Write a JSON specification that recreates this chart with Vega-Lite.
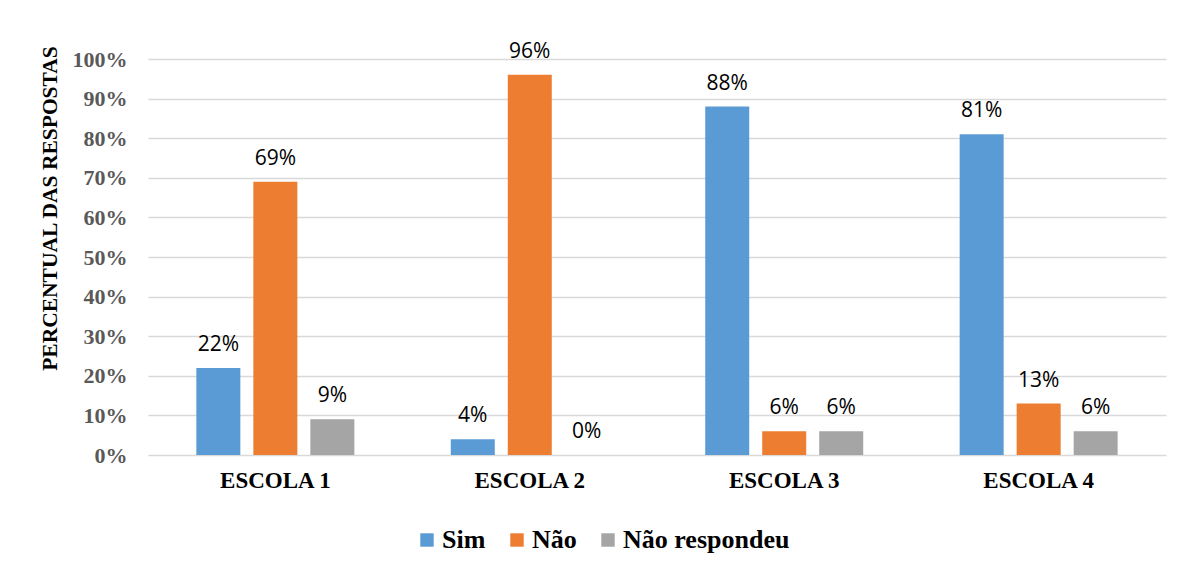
{
  "$schema": "https://vega.github.io/schema/vega-lite/v6.json",
  "width": 1018,
  "height": 396,
  "autosize": {"type": "none"},
  "padding": {"left": 148, "top": 59, "right": 21, "bottom": 109},
  "background": "white",
  "config": {
    "view": {"stroke": null}
  },
  "data": {
    "values": [
      {"escola": "ESCOLA 1", "resposta": "Sim", "valor": 0.22},
      {"escola": "ESCOLA 1", "resposta": "Não", "valor": 0.69},
      {"escola": "ESCOLA 1", "resposta": "Não respondeu", "valor": 0.09},
      {"escola": "ESCOLA 2", "resposta": "Sim", "valor": 0.04},
      {"escola": "ESCOLA 2", "resposta": "Não", "valor": 0.96},
      {"escola": "ESCOLA 2", "resposta": "Não respondeu", "valor": 0.0},
      {"escola": "ESCOLA 3", "resposta": "Sim", "valor": 0.88},
      {"escola": "ESCOLA 3", "resposta": "Não", "valor": 0.06},
      {"escola": "ESCOLA 3", "resposta": "Não respondeu", "valor": 0.06},
      {"escola": "ESCOLA 4", "resposta": "Sim", "valor": 0.81},
      {"escola": "ESCOLA 4", "resposta": "Não", "valor": 0.13},
      {"escola": "ESCOLA 4", "resposta": "Não respondeu", "valor": 0.06}
    ]
  },
  "encoding": {
    "x": {
      "field": "escola",
      "type": "nominal",
      "scale": {"paddingInner": 0.379, "paddingOuter": 0.19},
      "axis": {
        "title": null,
        "labelAngle": 0,
        "labelFont": "Liberation Serif",
        "labelFontWeight": "bold",
        "labelFontSize": 23,
        "labelColor": "#000000",
        "labelPadding": 14,
        "ticks": false,
        "domain": false
      }
    },
    "xOffset": {
      "field": "resposta",
      "type": "nominal",
      "sort": ["Sim", "Não", "Não respondeu"],
      "scale": {"paddingInner": 0.228, "paddingOuter": 0}
    },
    "y": {
      "field": "valor",
      "type": "quantitative",
      "scale": {"domain": [0, 1]},
      "axis": {
        "title": "PERCENTUAL DAS RESPOSTAS",
        "titleFont": "Liberation Serif",
        "titleFontWeight": "bold",
        "titleFontSize": 21.5,
        "titleColor": "#000000",
        "titleAngle": 270,
        "titleX": -98,
        "titleY": 149,
        "titleAlign": "center",
        "titleBaseline": "middle",
        "format": ".0%",
        "values": [0, 0.1, 0.2, 0.3, 0.4, 0.5, 0.6, 0.7, 0.8, 0.9, 1.0],
        "labelFont": "Liberation Serif",
        "labelFontWeight": "bold",
        "labelFontSize": 22,
        "labelColor": "#595959",
        "labelPadding": 21,
        "ticks": false,
        "domain": false,
        "grid": true,
        "gridColor": "#D9D9D9",
        "gridWidth": 1.4
      }
    }
  },
  "layer": [
    {
      "mark": {"type": "bar"},
      "encoding": {
        "color": {
          "field": "resposta",
          "type": "nominal",
          "scale": {
            "domain": ["Sim", "Não", "Não respondeu"],
            "range": ["#5B9BD5", "#ED7D31", "#A5A5A5"]
          },
          "legend": {
            "title": null,
            "orient": "none",
            "direction": "horizontal",
            "legendX": 266,
            "legendY": 468,
            "symbolType": "square",
            "symbolSize": 180,
            "symbolStrokeWidth": 0,
            "labelFont": "Liberation Serif",
            "labelFontWeight": "bold",
            "labelFontSize": 26,
            "labelColor": "#000000",
            "labelOffset": 2,
            "columnPadding": 18,
            "labelLimit": 400
          }
        }
      }
    },
    {
      "mark": {
        "type": "text",
        "baseline": "alphabetic",
        "dy": -17,
        "font": "Open Sans",
        "fontSize": 21,
        "color": "#000000"
      },
      "encoding": {
        "text": {"field": "valor", "type": "quantitative", "format": ".0%"}
      }
    }
  ]
}
